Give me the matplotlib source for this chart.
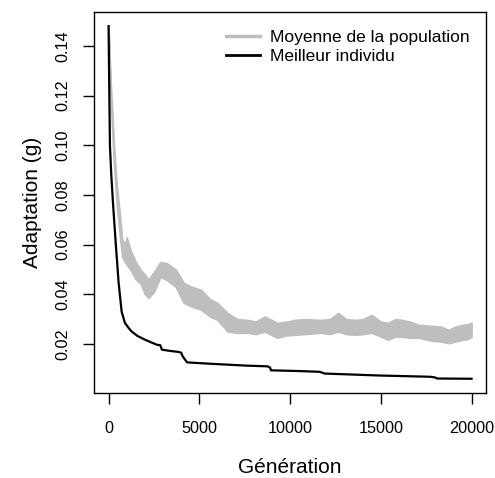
import matplotlib
matplotlib.use("Agg")
import matplotlib.pyplot as plt
from matplotlib.lines import Line2D

plt.rcParams['font.family'] = ['Liberation Sans', 'DejaVu Sans']

# population mean: envelope of the noisy band (upper / lower)
gen_pop = [0, 100, 200, 300, 450, 600, 750, 900, 1000, 1200, 1500, 1750, 2000, 2200,
           2500, 2850, 3200, 3700, 4150, 4600, 5100, 5600, 6000, 6550, 7100, 7650,
           8100, 8600, 9300, 9800, 10250, 10800, 11700, 12200, 12650, 13100, 13600,
           14000, 14500, 15000, 15400, 15800, 16150, 16600, 17100, 17800, 18300,
           18750, 19100, 19500, 19800, 20000]
pop_high = [0.148, 0.128, 0.114, 0.100, 0.084, 0.074, 0.062, 0.060, 0.063, 0.058,
            0.053, 0.050, 0.048, 0.046, 0.049, 0.053, 0.0526, 0.050, 0.0445, 0.043,
            0.0418, 0.038, 0.0365, 0.0325, 0.030, 0.0297, 0.029, 0.0311, 0.0285,
            0.029, 0.0297, 0.030, 0.0297, 0.030, 0.0325, 0.030, 0.0297, 0.030,
            0.0317, 0.029, 0.0285, 0.030, 0.0297, 0.029, 0.0277, 0.0273, 0.027,
            0.0257, 0.027, 0.0277, 0.028, 0.0285]
pop_low = [0.147, 0.122, 0.106, 0.092, 0.076, 0.065, 0.055, 0.053, 0.052, 0.050,
           0.046, 0.0445, 0.040, 0.0386, 0.041, 0.047, 0.0458, 0.043, 0.0365, 0.035,
           0.0338, 0.031, 0.0297, 0.025, 0.0245, 0.0245, 0.024, 0.025, 0.0225,
           0.0235, 0.0237, 0.024, 0.0245, 0.024, 0.025, 0.024, 0.0237, 0.024,
           0.0245, 0.023, 0.0217, 0.023, 0.0229, 0.0225, 0.0225, 0.0213, 0.021,
           0.0203, 0.021, 0.0217, 0.022, 0.0229]

# best individual
gen_best = [0, 40, 75, 150, 250, 400, 550, 720, 900, 1100, 1275, 1600, 2015, 2400,
            2660, 2850, 2940, 3400, 3860, 4000, 4085, 4325, 5000, 5710, 7560, 8760,
            8900, 8945, 10500, 11625, 11800, 11900, 14950, 17730, 18000, 18100, 20000]
best = [0.148, 0.122, 0.100, 0.088, 0.076, 0.060, 0.045, 0.033, 0.0285, 0.0265,
        0.025, 0.0232, 0.0217, 0.0205, 0.0197, 0.0195, 0.0177, 0.0172, 0.0168,
        0.0165, 0.0150, 0.0126, 0.0123, 0.0120, 0.0113, 0.0110, 0.0105, 0.0094,
        0.0091, 0.0088, 0.0084, 0.0081, 0.0073, 0.0068, 0.0065, 0.0061, 0.0060]

labels = ['Moyenne de la population', 'Meilleur individu']
xticks = [0, 5000, 10000, 15000, 20000]
yticks = [0.02, 0.04, 0.06, 0.08, 0.10, 0.12, 0.14]

grey = '#bebebe'

fig = plt.figure(figsize=(4.95, 4.78), dpi=100)
ax = fig.add_axes([0.19, 0.178, 0.792, 0.797])

ax.fill_between(gen_pop, pop_low, pop_high, color=grey, lw=1.2, edgecolor=grey)
ax.plot(gen_best, best, color='black', lw=1.6)

ax.set_xlim(-800, 20800)
ax.set_ylim(0.0003, 0.1537)
ax.set_xticks(xticks)
ax.set_yticks(yticks)
ax.set_yticklabels([f'{v:.2f}' for v in yticks], rotation=90, va='center')
ax.tick_params(axis='both', direction='out', length=8, width=1, labelsize=11.7)
ax.tick_params(axis='x', pad=12)
ax.tick_params(axis='y', pad=9)
for s in ax.spines.values():
    s.set_linewidth(1)

ax.set_xlabel('Génération', fontsize=15, labelpad=16)
ax.set_ylabel('Adaptation (g)', fontsize=15, labelpad=10)

handles = [Line2D([], [], color=grey, lw=2.5), Line2D([], [], color='black', lw=2)]
ax.legend(handles, labels, loc='upper left', bbox_to_anchor=(0.305, 0.985),
          frameon=False, fontsize=12.5, handlelength=1.95, handletextpad=0.6,
          labelspacing=0.25, borderpad=0.2)

fig.savefig('out.png', dpi=100)
